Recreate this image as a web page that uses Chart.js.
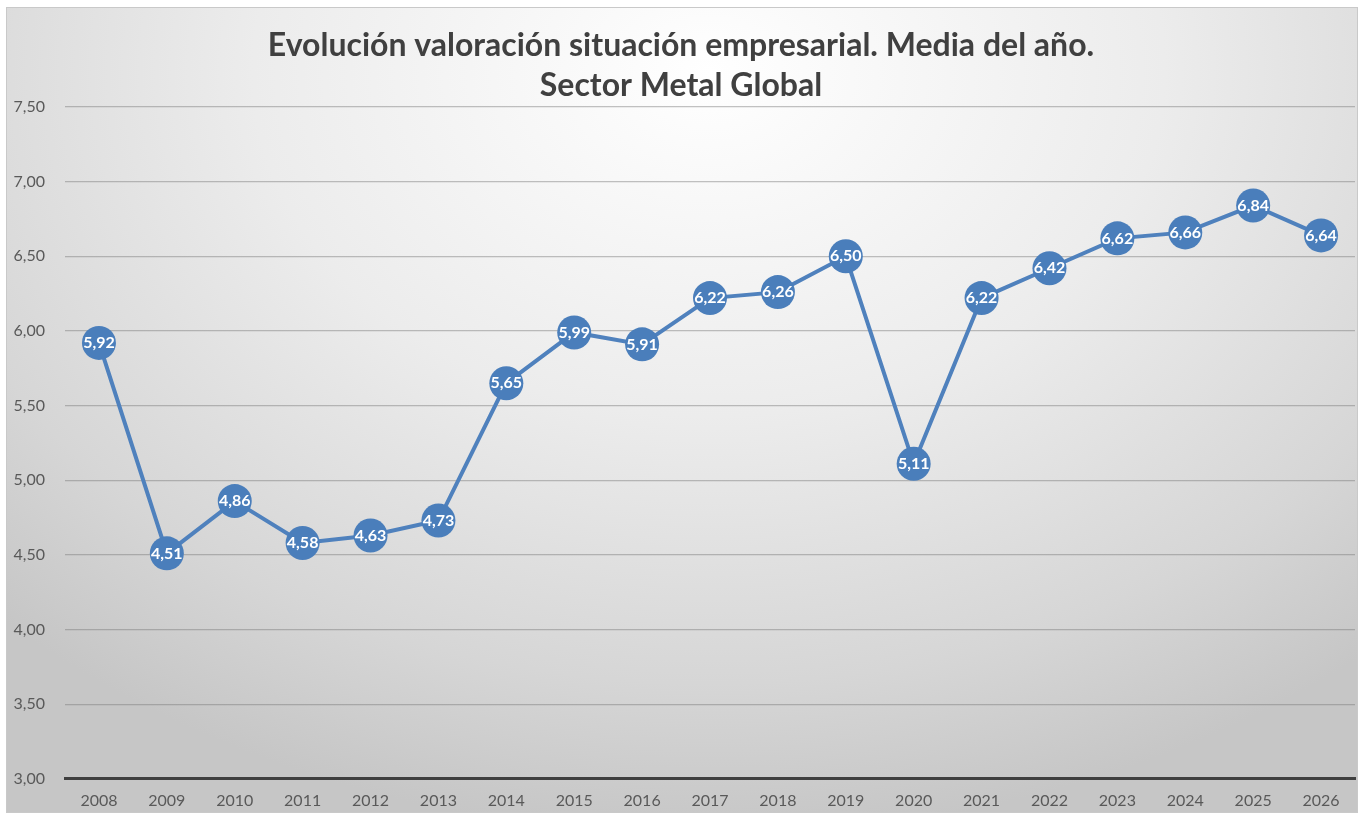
<!DOCTYPE html>
<html lang="es">
<head>
<meta charset="utf-8">
<title>Evolución valoración situación empresarial</title>
<script src="https://cdn.jsdelivr.net/npm/chart.js"></script>
<style>
    html, body {
        margin: 0;
        padding: 0;
        background: #ffffff;
    }
    #frame {
        position: absolute;
        left: 6px;
        top: 7px;
        width: 1350px;
        height: 804px;
        overflow: hidden;
        border: 1px solid #c9c9c9;
        background: radial-gradient(ellipse 75% 95% at 52% 8%, #ffffff 0%, #ececec 45%, #d6d6d6 80%, #c6c6c6 100%);
    }
</style>
</head>
<body>
<div id="frame">
    <canvas id="chart" width="1350" height="814"></canvas>
</div>
<script>
    const years = ['2008', '2009', '2010', '2011', '2012', '2013', '2014', '2015', '2016', '2017',
                   '2018', '2019', '2020', '2021', '2022', '2023', '2024', '2025', '2026'];
    const media = [5.92, 4.51, 4.86, 4.58, 4.63, 4.73, 5.65, 5.99, 5.91, 6.22,
                   6.26, 6.50, 5.11, 6.22, 6.42, 6.62, 6.66, 6.84, 6.64];
    const titleLines = ['Evolución valoración situación empresarial. Media del año.', 'Sector Metal Global'];

    const fmt = v => v.toFixed(2).replace('.', ',');

    // white value labels in the middle of each marker
    const valueLabels = {
        id: 'valueLabels',
        afterDatasetsDraw(chart) {
            const ctx = chart.ctx;
            const meta = chart.getDatasetMeta(0);
            ctx.save();
            ctx.font = 'bold 16px Lato, "DejaVu Sans", sans-serif';
            ctx.fillStyle = '#ffffff';
            ctx.textAlign = 'center';
            ctx.textBaseline = 'middle';
            meta.data.forEach((pt, i) => {
                ctx.fillText(fmt(media[i]), pt.x, pt.y);
            });
            ctx.restore();
        }
    };

    new Chart(document.getElementById('chart'), {
        type: 'line',
        data: {
            labels: years,
            datasets: [{
                data: media,
                borderColor: '#4f81bd',
                borderWidth: 4,
                backgroundColor: '#4a7ebb',
                pointRadius: 17,
                pointHoverRadius: 17,
                pointBorderWidth: 0,
                tension: 0
            }]
        },
        options: {
            responsive: false,
            animation: false,
            layout: {
                autoPadding: false,
                padding: { top: 0, right: 2, bottom: 0, left: 0 }
            },
            plugins: {
                legend: { display: false },
                tooltip: { enabled: false },
                title: {
                    display: true,
                    text: titleLines,
                    color: '#404040',
                    font: { family: 'Lato, "Open Sans", sans-serif', size: 32, weight: 'bold', lineHeight: 1.25 },
                    padding: { top: 18, bottom: 1 }
                }
            },
            scales: {
                x: {
                    offset: true,
                    grid: { display: false, drawTicks: false },
                    border: { display: true, color: '#3f3f3f', width: 3 },
                    ticks: {
                        color: '#595959',
                        font: { family: 'Lato, "Open Sans", sans-serif', size: 16 },
                        padding: 12,
                        maxRotation: 0,
                        autoSkip: false
                    }
                },
                y: {
                    min: 3,
                    max: 7.5,
                    afterFit: s => { s.width = 58; },
                    grid: { color: 'rgba(120,120,120,0.45)', lineWidth: 1.3, drawTicks: false },
                    border: { display: false },
                    ticks: {
                        stepSize: 0.5,
                        color: '#595959',
                        font: { family: 'Lato, "Open Sans", sans-serif', size: 16 },
                        padding: 20,
                        callback: v => fmt(v)
                    }
                }
            }
        },
        plugins: [valueLabels]
    });
</script>
</body>
</html>
